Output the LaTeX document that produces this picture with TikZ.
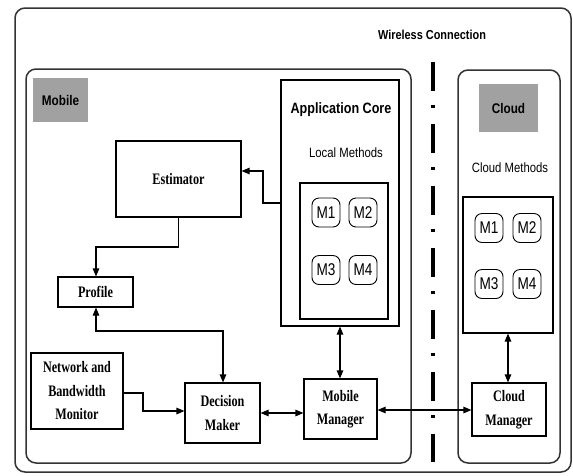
\documentclass[tikz,border=0pt]{standalone}
\usepackage{fontspec}
\newfontfamily\lsans[FakeStretch=0.84]{Liberation Sans}
\newfontfamily\lsansm[FakeStretch=0.8]{Liberation Sans}
\newfontfamily\lserif[FakeStretch=0.76]{Liberation Serif}
\usetikzlibrary{arrows.meta}
\begin{document}
\begin{tikzpicture}[x=1pt,y=-1pt,
  container/.style={draw=black!80, line width=1.5pt, rounded corners=10pt},
  box/.style={draw=black, line width=1.1pt, inner sep=0pt, align=center,
    font=\lserif\bfseries\fontsize{16}{23.5}\selectfont},
  plain/.style={draw=black, line width=1.1pt, inner sep=0pt},
  mbox/.style={draw=black, line width=0.9pt, rounded corners=7pt,
    minimum width=28pt, minimum height=29pt, inner sep=0pt,
    font=\lsansm\fontsize{17}{18}\selectfont},
  lbl/.style={fill=black!37, inner sep=0pt, font=\lsans\bfseries\fontsize{14}{16}\selectfont},
  txt/.style={inner sep=0pt, font=\lsans\fontsize{13.5}{15}\selectfont},
  conn/.style={line width=1.1pt},
  tip/.style={-{Triangle[length=8pt,width=6.5pt]}},
  dtip/.style={{Triangle[length=8pt,width=6.5pt]}-{Triangle[length=8pt,width=6.5pt]}},
  wire/.style={line width=3.5pt, dash pattern=on 29pt off 14pt on 3pt off 16pt}
]
\useasboundingbox (0,0) rectangle (573,475);
\fill[white] (0,0) rectangle (573,475);

% containers
\draw[container] (15,8) rectangle (571,472);
\draw[container] (26,69) rectangle (411,463);
\draw[container] (458,70) rectangle (560,463);

% labels
\node[lbl, minimum width=55pt, minimum height=44pt] (mobilelbl) at (60.5,100) {Mobile};
\node[lbl, minimum width=59pt, minimum height=48pt] (cloudlbl) at (508.5,108) {Cloud};
\node[txt, font=\lsans\bfseries\fontsize{13}{15}\selectfont] (wireless) at (432,35) {Wireless Connection};

% wireless line
\coordinate (wtop) at (433,62);
\coordinate (wbot) at (433,462);
\draw[wire] (wtop) -- (wbot);

% application core
\node[plain, minimum width=118pt, minimum height=246pt] (appcore) at (340,203) {};
\node[txt, font=\lsans\bfseries\fontsize{15}{17}\selectfont] (apptitle) at (341,110) {Application Core};
\node[txt] (localtxt) at (346,153) {Local Methods};
\node[plain, minimum width=88pt, minimum height=136pt] (localin) at (344,251) {};
\node[mbox] (lm1) at (326,212.5) {M1};
\node[mbox] (lm2) at (363,212.5) {M2};
\node[mbox] (lm3) at (326,270) {M3};
\node[mbox] (lm4) at (363,270) {M4};

% cloud methods
\node[txt] (cloudtxt) at (510,168) {Cloud Methods};
\node[plain, minimum width=90pt, minimum height=136pt] (cloudin) at (508,265) {};
\node[mbox] (cm1) at (489,228) {M1};
\node[mbox] (cm2) at (527,228) {M2};
\node[mbox] (cm3) at (489,284) {M3};
\node[mbox] (cm4) at (527,284) {M4};

% mobile components
\node[box, minimum width=125pt, minimum height=76pt] (est) at (178.5,179) {Estimator};
\node[box, minimum width=75pt, minimum height=30pt] (profile) at (95.5,292) {Profile};
\node[box, minimum width=92pt, minimum height=76pt] (nbm) at (77,391) {Network and\\Bandwidth\\Monitor};
\node[box, minimum width=75pt, minimum height=60pt] (dm) at (222.5,413) {Decision\\Maker};
\node[box, minimum width=73pt, minimum height=60pt] (mm) at (340.5,409) {Mobile\\Manager};
\node[box, minimum width=74pt, minimum height=53pt] (cmgr) at (509,409.5) {Cloud\\Manager};

% connectors
\draw[conn, tip] (appcore.west |- 0,203) -- (263,203) -- (263,171) -- (est.east |- 0,171);
\draw[conn, tip] (est.south) -- (178.5,247) -- (96,247) -- (profile.north -| 96,0);
\draw[conn, dtip] (profile.south -| 96,0) -- (96,331) -- (223,331) -- (dm.north -| 223,0);
\draw[conn, tip] (nbm.east |- 0,393) -- (143,393) -- (143,411) -- (dm.west |- 0,411);
\draw[conn, dtip] (dm.east |- 0,413) -- (mm.west |- 0,413);
\draw[conn, dtip] (appcore.south -| 340,0) -- (mm.north -| 340,0);
\draw[conn, dtip] (mm.east |- 0,410) -- (cmgr.west |- 0,410);
\draw[conn, dtip] (cloudin.south -| 508,0) -- (cmgr.north -| 508,0);
\end{tikzpicture}
\end{document}
